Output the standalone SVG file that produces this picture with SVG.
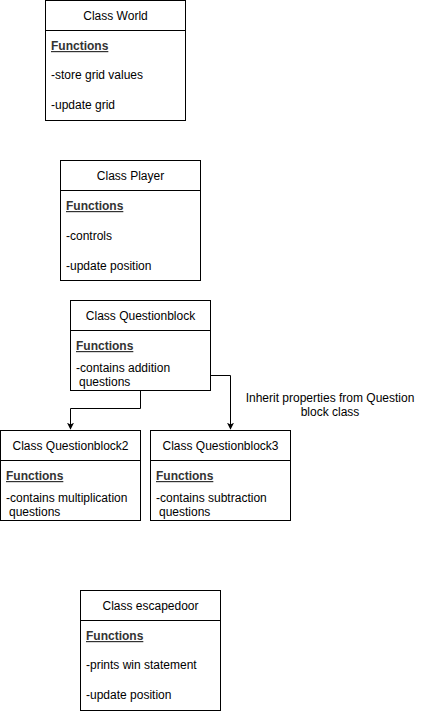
<svg xmlns="http://www.w3.org/2000/svg" width="421" height="711" viewBox="0 0 421 711">
<style>
text{font-family:"Liberation Sans",Arial,sans-serif;font-size:12px;fill:#000}
.t{text-anchor:middle}
.f{font-weight:bold;text-decoration:underline;fill:#333}
rect,line.h{fill:#fff;stroke:#000;stroke-width:1}
.c{fill:none;stroke:#000;stroke-width:1}
</style>
<defs>
<marker id="a" viewBox="0 0 10 10" refX="9" refY="5" markerWidth="7" markerHeight="7" orient="auto" markerUnits="userSpaceOnUse">
<path d="M0,0 L10,5 L0,10 L2.5,5 Z" fill="#000"/>
</marker>
</defs>
<rect x="0" y="0" width="421" height="711" style="stroke:none"/>
<g id="world">
<rect x="45.5" y="0.5" width="140" height="120"/>
<line class="h" x1="45.5" y1="30.5" x2="185.5" y2="30.5"/>
<text class="t" x="115.5" y="20">Class World</text>
<text class="f" x="51" y="50">Functions</text>
<text x="51" y="79">-store grid values</text>
<text x="51" y="109">-update grid</text>
</g>
<g id="player">
<rect x="60.5" y="160.5" width="140" height="120"/>
<line class="h" x1="60.5" y1="190.5" x2="200.5" y2="190.5"/>
<text class="t" x="130.5" y="180">Class Player</text>
<text class="f" x="66" y="210">Functions</text>
<text x="66" y="240">-controls</text>
<text x="66" y="270">-update position</text>
</g>
<g id="questionblock">
<rect x="70.5" y="300.5" width="140" height="90"/>
<line class="h" x1="70.5" y1="330.5" x2="210.5" y2="330.5"/>
<text class="t" x="140.5" y="320">Class Questionblock</text>
<text class="f" x="76" y="350">Functions</text>
<text x="76" y="372">-contains addition</text>
<text x="79" y="386">questions</text>
</g>
<g id="questionblock2">
<rect x="0.5" y="430.5" width="140" height="90"/>
<line class="h" x1="0.5" y1="460.5" x2="140.5" y2="460.5"/>
<text class="t" x="70.5" y="450">Class Questionblock2</text>
<text class="f" x="6" y="480">Functions</text>
<text x="6" y="502">-contains multiplication</text>
<text x="9" y="516">questions</text>
</g>
<g id="questionblock3">
<rect x="150.5" y="430.5" width="140" height="90"/>
<line class="h" x1="150.5" y1="460.5" x2="290.5" y2="460.5"/>
<text class="t" x="220.5" y="450">Class Questionblock3</text>
<text class="f" x="156" y="480">Functions</text>
<text x="156" y="502">-contains subtraction</text>
<text x="159" y="516">questions</text>
</g>
<g id="escapedoor">
<rect x="80.5" y="590.5" width="140" height="120"/>
<line class="h" x1="80.5" y1="620.5" x2="220.5" y2="620.5"/>
<text class="t" x="150.5" y="610">Class escapedoor</text>
<text class="f" x="86" y="640">Functions</text>
<text x="86" y="669">-prints win statement</text>
<text x="86" y="699">-update position</text>
</g>
<g id="connectors">
<path class="c" d="M140.5,390.5 V408.5 H70.5 V429" marker-end="url(#a)"/>
<path class="c" d="M210.5,375.5 H230.5 V429" marker-end="url(#a)"/>
</g>
<g id="label">
<text class="t" x="330" y="402">Inherit properties from Question</text>
<text class="t" x="330" y="416">block class</text>
</g>
</svg>
